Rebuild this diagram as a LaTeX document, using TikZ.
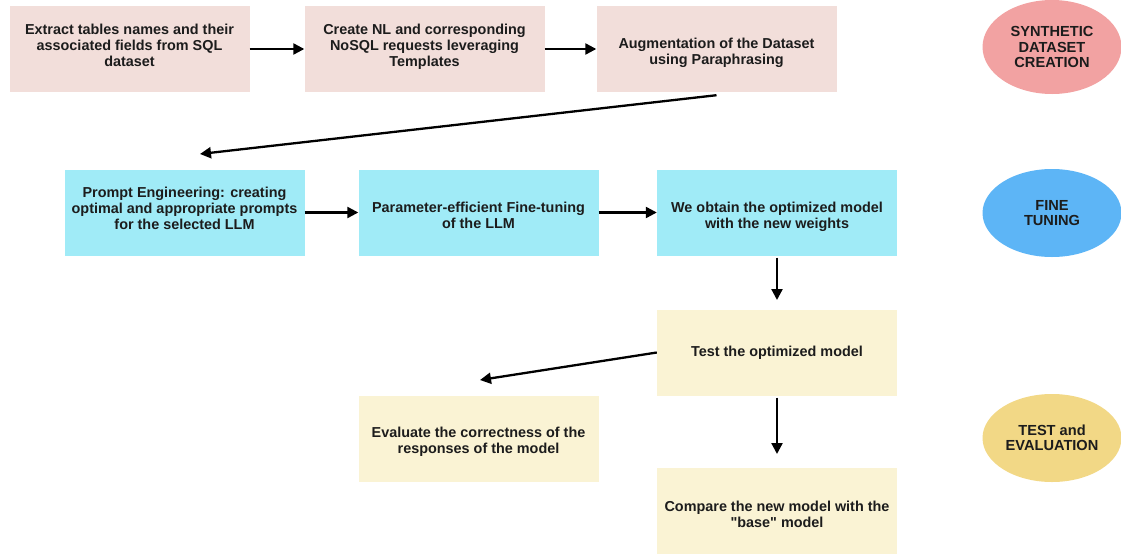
\documentclass[tikz,border=0pt]{standalone}
\usepackage{fontspec}
\setmainfont{Liberation Sans}[Ligatures=TeXOff]
\usetikzlibrary{arrows.meta,shapes.geometric}
\definecolor{synbox}{HTML}{F2DEDA}
\definecolor{synell}{HTML}{F2A2A2}
\definecolor{ftbox}{HTML}{A0EBF7}
\definecolor{ftell}{HTML}{5DB5F6}
\definecolor{evbox}{HTML}{FAF3D4}
\definecolor{evell}{HTML}{F2D886}
\definecolor{txt}{HTML}{1C1C1C}
% lines of a box, moved up by #1 without changing the box size
\newcommand\boxlines[2]{\raisebox{#1}[\height][\depth]{\begin{tabular}{@{}c@{}}#2\end{tabular}}}
\tikzset{
  stage/.style={rectangle,minimum width=240pt,minimum height=86pt,align=center,
    font=\bfseries\fontsize{14.4}{16}\selectfont,text=txt,inner sep=0pt},
  phase/.style={ellipse,minimum width=139pt,minimum height=88pt,inner sep=0pt,align=center,
    font=\bfseries\fontsize{14.6}{15.5}\selectfont,text=txt},
  flow/.style={line width=2.3pt,-{Triangle[length=11pt,width=11pt]}}
}
\begin{document}
\begin{tikzpicture}[x=1pt,y=-1pt]
\useasboundingbox (0,0) rectangle (1121,555);
% synthetic dataset creation
\node[stage,fill=synbox] (extract) at (129.5,49) {\boxlines{2pt}{Extract tables names and their\\associated fields from SQL\\dataset}};
\node[stage,fill=synbox] (create) at (424.5,49) {\boxlines{2pt}{Create NL and corresponding\\NoSQL requests leveraging\\Templates}};
\node[stage,fill=synbox] (augment) at (716.5,49) {\boxlines{-4pt}{Augmentation of the Dataset\\using Paraphrasing}};
\node[phase,fill=synell,minimum height=94pt] (synth) at (1052,47) {SYNTHETIC\\DATASET\\CREATION};
% fine tuning
\node[stage,fill=ftbox] (prompt) at (184.5,212.5) {\boxlines{2pt}{Prompt Engineering: creating\\optimal and appropriate prompts\\for the selected LLM}};
\node[stage,fill=ftbox] (peft) at (478.5,212.5) {\boxlines{-5pt}{Parameter-efficient Fine-tuning\\of the LLM}};
\node[stage,fill=ftbox] (weights) at (777,212.5) {\boxlines{-4.5pt}{We obtain the optimized model\\with the new weights}};
\node[phase,fill=ftell] (tuning) at (1052,213) {FINE\\TUNING};
% test and evaluation
\node[stage,fill=evbox] (test) at (777,352.5) {\boxlines{-1pt}{Test the optimized model}};
\node[stage,fill=evbox] (evaluate) at (478.5,439) {\boxlines{-3.5pt}{Evaluate the correctness of the\\responses of the model}};
\node[stage,fill=evbox] (compare) at (777,510.5) {\boxlines{-6pt}{Compare the new model with the\\"base" model}};
\node[phase,fill=evell] (testeval) at (1052,438) {TEST and\\EVALUATION};
% connectors
\coordinate (toprompt) at (200,154);
\coordinate (totest) at (777,300);
\coordinate (toeval) at (480,380);
\coordinate (tocompare) at (777,454);
\draw[flow] (extract.east) -- (create.west);
\draw[flow] (create.east) -- (augment.west);
\draw[flow] (augment.south)++(0,3) -- (toprompt);
\draw[flow] (prompt.east) -- (peft.west);
\draw[flow] (peft.east) -- (weights.west);
\draw[flow] (weights.south)++(0,2) -- (totest);
\draw[flow] (test.west) -- (toeval);
\draw[flow] (test.south)++(0,2) -- (tocompare);
\end{tikzpicture}
\end{document}
